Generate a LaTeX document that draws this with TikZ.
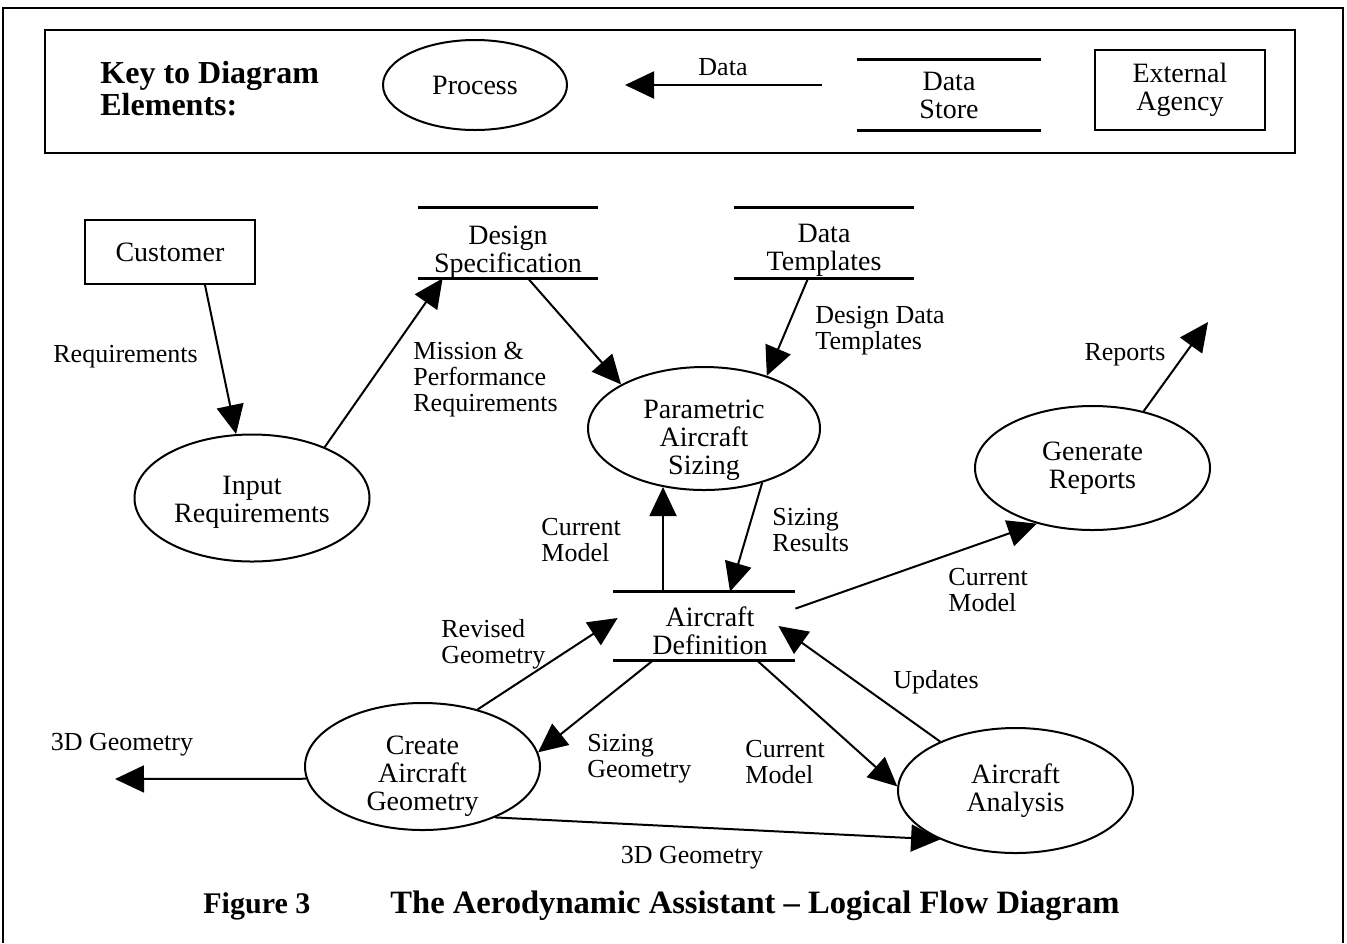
\documentclass[tikz,border=0pt]{standalone}
\usepackage{fontspec}
\setmainfont{Liberation Serif}
\usetikzlibrary{arrows.meta,shapes.geometric,calc}

\begin{document}
\begin{tikzpicture}[x=0.5pt,y=-0.5pt,
  proc/.style={draw,ellipse,line width=1pt,inner sep=0pt},
  store/.style={inner sep=0pt},
  storeline/.style={line width=1.6pt},
  agent/.style={draw,rectangle,line width=1pt,inner sep=0pt,align=center,
    font=\fontsize{14}{14}\selectfont},
  ntext/.style={inner sep=0pt,align=center,font=\fontsize{14}{14}\selectfont},
  flow/.style={line width=1pt,-{Triangle[length=14.5pt,width=13.5pt]}},
  lbl/.style={inner sep=0pt,align=left,font=\fontsize{13}{13}\selectfont},
  frame/.style={line width=0.9pt},
  heading/.style={inner sep=0pt,align=left,font=\bfseries\fontsize{16}{16}\selectfont}
]
\useasboundingbox (0,0) rectangle (1347,943);

% outer frame and key box
\draw[frame] (3,943) -- (3,8) -- (1343,8) -- (1343,943);
\draw[frame] (45,30) rectangle (1295,153);

% key to diagram elements
\node[heading,anchor=west] (keyhead) at (100,89) {Key to Diagram\\Elements:};
\node[proc,minimum width=92pt,minimum height=45pt,
  label={[ntext]center:Process}] (kp) at (475,85) {};
\coordinate (keyA) at (822,85);
\coordinate (keyB) at (625,85);
\draw[flow] (keyA) -- (keyB);
\node[lbl] (kdata) at (723,67) {Data};
\node[store,minimum width=92pt,minimum height=35pt,
  label={[ntext]center:{Data\\Store}}] (kds) at (949,95) {};
\node[agent,minimum width=85pt,minimum height=40pt] (kea) at (1180,90) {External\\Agency};

% processes, stores and agencies
\node[agent,minimum width=85pt,minimum height=32pt] (cust) at (170,252) {Customer};
\node[proc,minimum width=117.5pt,minimum height=63.5pt,
  label={[ntext,yshift=-2pt]center:{Input\\Requirements}}] (ir) at (252,498) {};
\node[store,minimum width=90pt,minimum height=35pt,
  label={[ntext,yshift=-4.5pt]center:{Design\\Specification}}] (ds) at (508,243) {};
\node[store,minimum width=90pt,minimum height=35pt,
  label={[ntext,yshift=-3.5pt]center:{Data\\Templates}}] (dt) at (824,243) {};
\node[proc,minimum width=116pt,minimum height=61.5pt,
  label={[ntext,yshift=-6pt]center:{Parametric\\Aircraft\\Sizing}}] (pas) at (704,428.5) {};
\node[proc,minimum width=117.5pt,minimum height=62pt,
  label={[ntext]center:{Generate\\Reports}}] (gr) at (1092.5,468) {};
\node[store,minimum width=91pt,minimum height=34pt,
  label={[ntext,xshift=3pt,yshift=-2.5pt]center:{Aircraft\\Definition}}] (ad) at (704,626) {};
\node[proc,minimum width=117.5pt,minimum height=63.5pt,
  label={[ntext,yshift=-5pt]center:{Create\\Aircraft\\Geometry}}] (cag) at (422.5,766.5) {};
\node[proc,minimum width=117.5pt,minimum height=62.5pt,
  label={[ntext]center:{Aircraft\\Analysis}}] (aa) at (1015.5,790.5) {};

\foreach \s in {kds,ds,dt,ad}
  \draw[storeline] (\s.north west) -- (\s.north east) (\s.south west) -- (\s.south east);

% free ends of outgoing flows
\coordinate (repOut) at (1208,322);
\coordinate (geoOut) at (115,779);

% data flows
\draw[flow] ($(cust.south)+(35,0)$) -- (ir.104);
\draw[flow] (ir.35) -- ($(ds.south west)+(25,0)$);
\draw[flow] ($(ds.south)+(20,0)$) -- (pas.152);
\draw[flow] ($(dt.south)+(-16,0)$) -- (pas.40);
\draw[flow] (pas.-43) -- ($(ad.north)+(26,0)$);
\draw[flow] ($(ad.north)+(-41,0)$) coordinate (cmUp) -- (cmUp |- pas.-125.5);
\draw[flow] ($(ad.north east)+(0,17)$) -- (gr.225);
\draw[flow] (gr.48) -- (repOut);
\draw[flow] (cag.46) -- ($(ad.west)+(5,-8)$);
\draw[flow] ($(ad.south)+(-51,0)$) -- (cag.7);
\draw[flow] (cag.186) -- (geoOut);
\draw[flow] ($(ad.south)+(53,0)$) -- (aa.178);
\draw[flow] (aa.147) -- ($(ad.east)+(-17,0)$);
\draw[flow] (cag.-35) -- (aa.213);

% flow labels
\node[lbl,anchor=west] (lReq) at (53,357) {Requirements};
\node[lbl,anchor=west] (lMis) at (413,380) {Mission \&\\Performance\\Requirements};
\node[lbl,anchor=west] (lDdt) at (815,331) {Design Data\\Templates};
\node[lbl] (lRep) at (1125,355) {Reports};
\node[lbl,anchor=west] (lCm1) at (541,540) {Current\\Model};
\node[lbl,anchor=west] (lSr) at (772,530) {Sizing\\Results};
\node[lbl,anchor=west] (lCm2) at (948,590) {Current\\Model};
\node[lbl,anchor=west] (lRg) at (441,644) {Revised\\Geometry};
\node[lbl,anchor=west] (lSg) at (587,759) {Sizing\\Geometry};
\node[lbl,anchor=west] (lCm3) at (745,762) {Current\\Model};
\node[lbl] (lUpd) at (936,682) {Updates};
\node[lbl] (l3dL) at (122,745) {3D Geometry};
\node[lbl] (l3dB) at (692,858) {3D Geometry};

% caption
\node[heading,anchor=west,font=\bfseries\fontsize{15}{16}\selectfont] (figno) at (203,906) {Figure 3};
\node[heading,anchor=west,font=\bfseries\fontsize{16.3}{16}\selectfont] (figtitle) at (390,906)
  {The Aerodynamic Assistant \textendash{} Logical Flow Diagram};
\end{tikzpicture}
\end{document}
